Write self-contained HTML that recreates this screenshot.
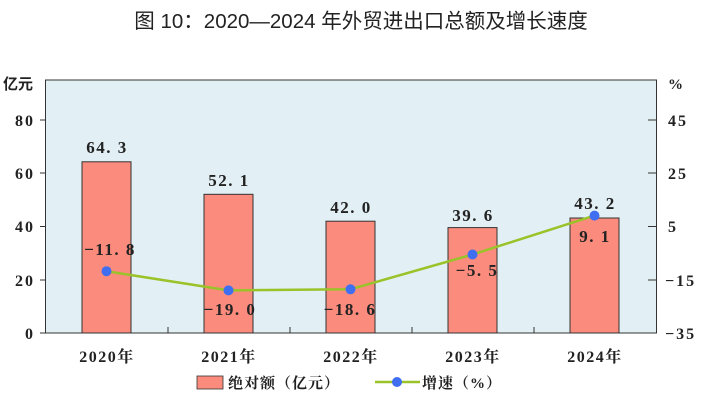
<!DOCTYPE html><html><head><meta charset="utf-8"><style>body{margin:0;background:#fff}svg{display:block}text{font-family:"Liberation Serif","Noto Serif CJK SC",serif;font-weight:bold;fill:#222}</style></head><body>
<svg width="713" height="409" viewBox="0 0 713 409">
<text x="361" y="28" text-anchor="middle" style="font-family:'Liberation Sans','Noto Sans CJK SC',sans-serif;font-weight:normal;font-size:20.5px" fill="#111">图 10：2020—2024 年外贸进出口总额及增长速度</text>
<rect x="45.5" y="80" width="611" height="253" fill="#e2f0f5" stroke="#333" stroke-width="1"/>
<g stroke="#333" stroke-width="1">
<line x1="40" y1="120" x2="46" y2="120"/><line x1="40" y1="173" x2="46" y2="173"/><line x1="40" y1="226.5" x2="46" y2="226.5"/><line x1="40" y1="280" x2="46" y2="280"/><line x1="40" y1="333" x2="46" y2="333"/>
<line x1="648" y1="120" x2="656" y2="120"/><line x1="648" y1="173" x2="656" y2="173"/><line x1="648" y1="226.5" x2="656" y2="226.5"/><line x1="648" y1="280" x2="656" y2="280"/>
<line x1="168" y1="327" x2="168" y2="333"/><line x1="290" y1="327" x2="290" y2="333"/><line x1="412" y1="327" x2="412" y2="333"/><line x1="534" y1="327" x2="534" y2="333"/>
</g>
<g font-size="16" text-anchor="end" letter-spacing="2"><text x="35" y="126">80</text><text x="35" y="179">60</text><text x="35" y="232">40</text><text x="35" y="286">20</text><text x="35" y="339">0</text></g>
<text x="3" y="89" font-size="15" style="font-family:'Noto Sans CJK SC',sans-serif">亿元</text>
<text x="668" y="89" font-size="15">%</text>
<g font-size="16" letter-spacing="2"><text x="668" y="126">45</text><text x="668" y="179">25</text><text x="668" y="232">5</text><text x="665" y="286">−15</text><text x="665" y="339">−35</text></g>
<g fill="#fa8b7d" stroke="#333" stroke-width="1">
<rect x="82" y="161.8" width="49" height="171.2"/><rect x="204" y="194.3" width="49" height="138.7"/><rect x="326" y="221.2" width="49" height="111.8"/><rect x="448" y="227.6" width="49" height="105.4"/><rect x="570" y="218" width="49" height="115"/>
</g>
<g font-size="17" text-anchor="middle" letter-spacing="1.5"><text x="107" y="153">64. 3</text><text x="229" y="186">52. 1</text><text x="351" y="213">42. 0</text><text x="473" y="221">39. 6</text><text x="595" y="209">43. 2</text>
<text x="110" y="255">−11. 8</text><text x="230" y="315">−19. 0</text><text x="350" y="315">−18. 6</text><text x="477" y="276">−5. 5</text><text x="595" y="242">9. 1</text></g>
<polyline points="106.5,271.2 228.5,290.4 350.5,289.3 472.5,254.5 594.5,215.6" fill="none" stroke="#9ac32a" stroke-width="2.5"/>
<g fill="#3f6ef0"><circle cx="106.5" cy="271.2" r="5"/><circle cx="228.5" cy="290.4" r="5"/><circle cx="350.5" cy="289.3" r="5"/><circle cx="472.5" cy="254.5" r="5"/><circle cx="594.5" cy="215.6" r="5"/></g>
<g font-size="16" text-anchor="middle" letter-spacing="1.5"><text x="107" y="362">2020年</text><text x="229" y="362">2021年</text><text x="351" y="362">2022年</text><text x="473" y="362">2023年</text><text x="595" y="362">2024年</text></g>
<rect x="197" y="376" width="26" height="13" fill="#fa8b7d" stroke="#333" stroke-width="0.8"/>
<text x="228" y="388" font-size="15" letter-spacing="1">绝对额（亿元）</text>
<line x1="375" y1="382" x2="420" y2="382" stroke="#9ac32a" stroke-width="2.5"/><circle cx="397" cy="382" r="5" fill="#3f6ef0"/>
<text x="422" y="388" font-size="15" letter-spacing="1">增速（%）</text>
</svg></body></html>
